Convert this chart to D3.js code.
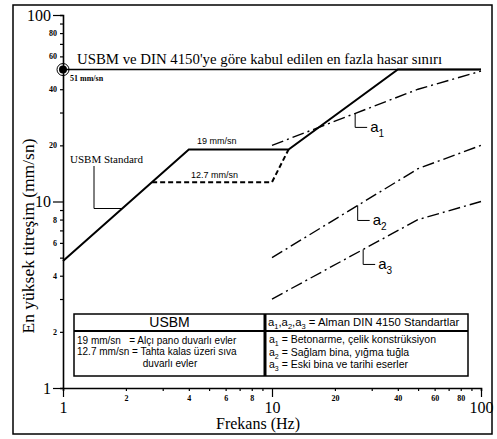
<!DOCTYPE html>
<html>
<head>
<meta charset="utf-8">
<script src="https://cdn.jsdelivr.net/npm/d3@7"></script>
<style>
  body { margin: 0; background: #fff; }
  svg { display: block; }
</style>
</head>
<body>
<div id="chart"></div>
<script>
// Data (frequency Hz, peak particle velocity mm/sn)
const usbmSolid = [[1, 4.8], [4, 19], [12, 19], [40, 51], [100, 51]]
const usbmDashed = [[2.67, 12.7], [10, 12.7], [12, 19]]
const din1 = [[10, 20], [50, 40], [100, 50]]
const din2 = [[10, 5], [50, 15], [100, 20]]
const din3 = [[10, 3], [50, 8], [100, 10]]
const limit = [[1, 51], [100, 51]]

const xTicks = [1, 2, 3, 4, 5, 6, 7, 8, 9, 10, 20, 30, 40, 50, 60, 70, 80, 90, 100]
const yTicks = [1, 2, 3, 4, 5, 6, 7, 8, 9, 10, 20, 30, 40, 50, 60, 70, 80, 90, 100]
const tickLabels = [1, 2, 4, 6, 8, 10, 20, 40, 60, 80, 100]
const majorTicks = [1, 10, 100]

const usbmLegend = ['19 mm/sn   = Alçı pano duvarlı evler', '12.7 mm/sn = Tahta kalas üzeri sıva']
const dinLegend = [
  ['1', ' = Betonarme, çelik konstrüksiyon'],
  ['2', ' = Sağlam bina, yığma tuğla'],
  ['3', ' = Eski bina ve tarihi eserler']
]

const width = 497
const height = 439
const serif = '"Liberation Serif", "DejaVu Serif", serif'
const sans = '"Liberation Sans", Arial, sans-serif'

const svg = d3
  .select('#chart')
  .append('svg')
  .attr('width', width)
  .attr('height', height)

// outer frame
svg
  .append('rect')
  .attr('x', 13)
  .attr('y', 5)
  .attr('width', 479)
  .attr('height', 429)
  .attr('fill', 'none')
  .attr('stroke', '#000')
  .attr('stroke-width', 1.5)

const x = d3.scaleLog().domain([1, 100]).range([63, 481])
const y = d3.scaleLog().domain([1, 100]).range([388, 15])

const line = d3
  .line()
  .x(d => x(d[0]))
  .y(d => y(d[1]))

function valueAt(curve, f) {
  for (let i = 0; i < curve.length - 1; i++) {
    const [f0, v0] = curve[i]
    const [f1, v1] = curve[i + 1]
    if (f >= f0 && f <= f1) {
      const t = Math.log(f / f0) / Math.log(f1 / f0)
      return Math.exp(Math.log(v0) + t * Math.log(v1 / v0))
    }
  }
  return curve[curve.length - 1][1]
}

// axes
const xAxis = svg
  .append('g')
  .attr('transform', `translate(0,${y(1)})`)
  .call(
    d3
      .axisBottom(x)
      .tickValues(xTicks)
      .tickSize(3)
      .tickFormat(d => (tickLabels.includes(d) ? d : ''))
  )

const yAxis = svg
  .append('g')
  .attr('transform', `translate(${x(1)},0)`)
  .call(
    d3
      .axisLeft(y)
      .tickValues(yTicks)
      .tickSize(3)
      .tickFormat(d => (tickLabels.includes(d) ? d : ''))
  )

;[xAxis, yAxis].forEach(g => {
  g.select('.domain').attr('stroke-width', 1.6)
  g.selectAll('.tick line').attr('stroke-width', 1.2)
  g.selectAll('.tick text')
    .attr('font-family', serif)
    .attr('font-weight', 'bold')
    .attr('font-size', 8)
    .attr('fill', '#000')
})

xAxis.selectAll('.tick text').attr('y', 7)
xAxis
  .selectAll('.tick')
  .filter(d => majorTicks.includes(d))
  .each(function() {
    const t = d3.select(this)
    t.select('line').attr('y2', 9)
    t.select('text')
      .attr('y', 14)
      .attr('font-size', 16)
      .attr('font-weight', 'normal')
  })

yAxis.selectAll('.tick text').attr('x', -6)
yAxis
  .selectAll('.tick')
  .filter(d => majorTicks.includes(d))
  .each(function() {
    const t = d3.select(this)
    t.select('line').attr('x2', -10)
    t.select('text')
      .attr('x', -12)
      .attr('font-size', 16)
      .attr('font-weight', 'normal')
  })

// axis titles
svg
  .append('text')
  .text('Frekans (Hz)')
  .attr('x', 258)
  .attr('y', 429)
  .attr('text-anchor', 'middle')
  .attr('font-family', serif)
  .attr('font-size', 16)

svg
  .append('text')
  .text('En yüksek titreşim (mm/sn)')
  .attr('transform', 'translate(34,236) rotate(-90)')
  .attr('text-anchor', 'middle')
  .attr('font-family', serif)
  .attr('font-size', 17.5)

// curves
svg
  .append('path')
  .datum(limit)
  .attr('d', line)
  .attr('fill', 'none')
  .attr('stroke', '#000')
  .attr('stroke-width', 1.5)

svg
  .append('path')
  .datum(usbmSolid)
  .attr('d', line)
  .attr('fill', 'none')
  .attr('stroke', '#000')
  .attr('stroke-width', 2)

svg
  .append('path')
  .datum(usbmDashed)
  .attr('d', line)
  .attr('fill', 'none')
  .attr('stroke', '#000')
  .attr('stroke-width', 2)
  .attr('stroke-dasharray', '5,3')

svg
  .selectAll('.din')
  .data([din1, din2, din3])
  .enter()
  .append('path')
  .attr('class', 'din')
  .attr('d', line)
  .attr('fill', 'none')
  .attr('stroke', '#000')
  .attr('stroke-width', 1.4)
  .attr('stroke-dasharray', '12,4,2,4')

// 51 mm/sn point on the y axis
svg
  .append('circle')
  .attr('cx', x(1))
  .attr('cy', y(51))
  .attr('r', 6)
  .attr('fill', 'none')
  .attr('stroke', '#000')
  .attr('stroke-width', 1)
svg
  .append('circle')
  .attr('cx', x(1))
  .attr('cy', y(51))
  .attr('r', 4)
  .attr('fill', '#000')

svg
  .append('text')
  .text('51 mm/sn')
  .attr('x', 70)
  .attr('y', 81)
  .attr('font-family', serif)
  .attr('font-weight', 'bold')
  .attr('font-size', 8)

svg
  .append('text')
  .text("USBM ve DIN 4150'ye göre kabul edilen en fazla hasar sınırı")
  .attr('x', 77)
  .attr('y', 64)
  .attr('font-family', serif)
  .attr('font-size', 14.8)

svg
  .append('text')
  .text('19 mm/sn')
  .attr('x', 197)
  .attr('y', 144)
  .attr('font-family', sans)
  .attr('font-size', 9)

svg
  .append('text')
  .text('12.7 mm/sn')
  .attr('x', 191)
  .attr('y', 178)
  .attr('font-family', sans)
  .attr('font-size', 9)

// USBM Standard label with leader
svg
  .append('text')
  .text('USBM Standard')
  .attr('x', 70)
  .attr('y', 163)
  .attr('font-family', serif)
  .attr('font-size', 11)

const leaderF = 1.92
svg
  .append('path')
  .attr('d', `M94,166 V${y(valueAt(usbmSolid, leaderF))} H${x(leaderF)}`)
  .attr('fill', 'none')
  .attr('stroke', '#000')
  .attr('stroke-width', 1)

// a1, a2, a3 labels with leaders
const aLabels = [
  { curve: din1, f: 25, dy: 14, n: '1' },
  { curve: din2, f: 25.7, dy: 15, n: '2' },
  { curve: din3, f: 27.3, dy: 15, n: '3' }
]

aLabels.forEach(a => {
  const px = x(a.f)
  const py = y(valueAt(a.curve, a.f))
  svg
    .append('path')
    .attr('d', `M${px},${py} V${py + a.dy} H${px + 12}`)
    .attr('fill', 'none')
    .attr('stroke', '#000')
    .attr('stroke-width', 1)
  const t = svg
    .append('text')
    .attr('x', px + 15)
    .attr('y', py + a.dy + 5)
    .attr('font-family', sans)
    .attr('font-size', 15)
  t.append('tspan').text('a')
  t.append('tspan').text(a.n).attr('font-size', 10).attr('dy', 5)
})

// legend boxes
const boxTop = 314
const boxSep = 331
const boxBottom = 376
const usbmLeft = 74
const mid = 265
const dinRight = 468

const legend = svg.append('g')

legend
  .append('rect')
  .attr('x', usbmLeft)
  .attr('y', boxTop)
  .attr('width', dinRight - usbmLeft)
  .attr('height', boxBottom - boxTop)
  .attr('fill', '#fff')
  .attr('stroke', '#000')
  .attr('stroke-width', 1.5)

legend
  .append('line')
  .attr('x1', usbmLeft)
  .attr('x2', dinRight)
  .attr('y1', boxSep)
  .attr('y2', boxSep)
  .attr('stroke', '#000')
  .attr('stroke-width', 2)

legend
  .append('line')
  .attr('x1', mid)
  .attr('x2', mid)
  .attr('y1', boxTop)
  .attr('y2', boxBottom)
  .attr('stroke', '#000')
  .attr('stroke-width', 3)

legend
  .append('text')
  .text('USBM')
  .attr('x', (usbmLeft + mid) / 2)
  .attr('y', 327)
  .attr('text-anchor', 'middle')
  .attr('font-family', sans)
  .attr('font-size', 14)

legend
  .selectAll('.usbm-item')
  .data(usbmLegend)
  .enter()
  .append('text')
  .attr('class', 'usbm-item')
  .text(d => d)
  .attr('x', 77)
  .attr('y', (d, i) => 344 + i * 11)
  .attr('font-family', sans)
  .attr('font-size', 10)
  .style('white-space', 'pre')

legend
  .append('text')
  .text('duvarlı evler')
  .attr('x', 170)
  .attr('y', 367)
  .attr('text-anchor', 'middle')
  .attr('font-family', sans)
  .attr('font-size', 10)

const header = legend
  .append('text')
  .attr('x', 268)
  .attr('y', 326)
  .attr('font-family', sans)
  .attr('font-size', 11.3)
;['1', '2', '3'].forEach((n, i) => {
  header.append('tspan').text('a')
  header.append('tspan').text(n).attr('font-size', 7.5).attr('dy', 3)
  header.append('tspan').text(i < 2 ? ',' : ' = Alman DIN 4150 Standartlar').attr('dy', -3)
})

dinLegend.forEach((d, i) => {
  const t = legend
    .append('text')
    .attr('x', 269)
    .attr('y', 343 + i * 12.5)
    .attr('font-family', sans)
    .attr('font-size', 10.5)
  t.append('tspan').text('a')
  t.append('tspan').text(d[0]).attr('font-size', 7).attr('dy', 3)
  t.append('tspan').text(d[1]).attr('dy', -3)
})
</script>
</body>
</html>
